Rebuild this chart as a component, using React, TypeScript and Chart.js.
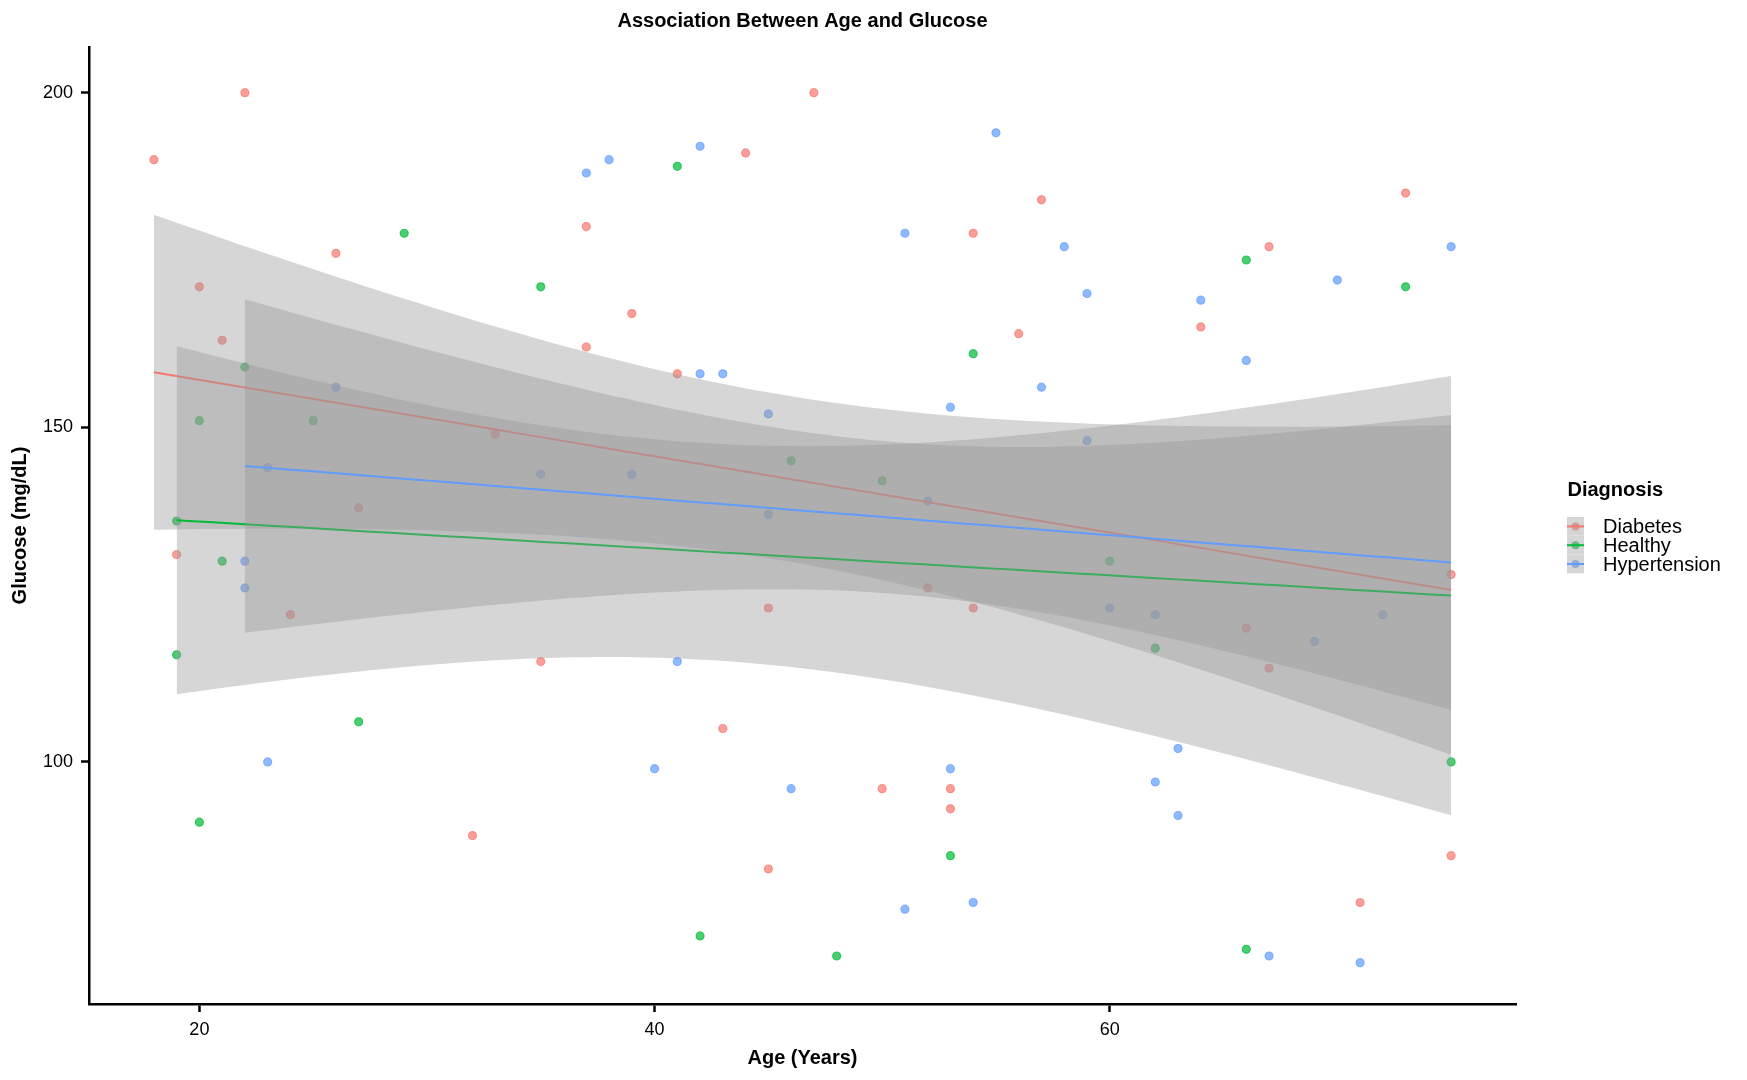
import { useEffect, useRef } from "react";
import { Chart, registerables } from "chart.js";

Chart.register(...registerables);

// ---- data -------------------------------------------------------------
const groupNames = ["Diabetes", "Healthy", "Hypertension"];
const groupColors = ["#F8766D", "#00BA38", "#619CFF"];
const groupRgb = ["248,118,109", "0,186,56", "97,156,255"];

const diabetesAge = [18, 19, 20, 21, 22, 24, 26, 27, 32, 33, 35, 37, 37, 39, 41, 43, 44, 45, 45, 47, 50, 52, 53, 53, 54, 54, 56, 57, 64, 66, 67, 67, 71, 73, 75, 75];
const diabetesGlucose = [190, 131, 171, 163, 200, 122, 176, 138, 89, 149, 115, 180, 162, 167, 158, 105, 191, 123, 84, 200, 96, 126, 96, 93, 179, 123, 164, 184, 165, 120, 177, 114, 79, 185, 128, 86];

const healthyAge = [19, 19, 20, 20, 21, 22, 25, 27, 29, 35, 41, 42, 46, 48, 50, 53, 54, 60, 62, 66, 66, 73, 75];
const healthyGlucose = [136, 116, 151, 91, 130, 159, 151, 106, 179, 171, 189, 74, 145, 71, 142, 86, 161, 130, 117, 175, 72, 171, 100];

const hypertensionAge = [22, 22, 23, 23, 26, 35, 37, 38, 39, 40, 41, 42, 42, 43, 45, 45, 46, 51, 51, 52, 53, 53, 54, 55, 57, 58, 59, 59, 60, 62, 62, 63, 63, 64, 66, 67, 69, 70, 71, 72, 75];
const hypertensionGlucose = [130, 126, 144, 100, 156, 143, 188, 190, 143, 99, 115, 192, 158, 158, 152, 137, 96, 179, 78, 139, 153, 99, 79, 194, 156, 177, 170, 148, 123, 122, 97, 102, 92, 169, 160, 71, 118, 172, 70, 122, 177];

const groupAges = [diabetesAge, healthyAge, hypertensionAge];
const groupGlucose = [diabetesGlucose, healthyGlucose, hypertensionGlucose];

const xTicks = [20, 40, 60];
const yTicks = [100, 150, 200];

const chartTitle = "Association Between Age and Glucose";
const xTitle = "Age (Years)";
const yTitle = "Glucose (mg/dL)";
const legendTitle = "Diagnosis";

const FONT = '"Liberation Sans", Arial, Helvetica, sans-serif';
const BAND_FILL = "rgba(153,153,153,0.4)";

// ---- linear model with 95% confidence band ---------------------------
function tQuantile975(df: number) {
  const z = 1.959963985;
  const z3 = z ** 3, z5 = z ** 5, z7 = z ** 7, z9 = z ** 9;
  const g1 = (z3 + z) / 4;
  const g2 = (5 * z5 + 16 * z3 + 3 * z) / 96;
  const g3 = (3 * z7 + 19 * z5 + 17 * z3 - 15 * z) / 384;
  const g4 = (79 * z9 + 776 * z7 + 1482 * z5 - 1920 * z3 - 945 * z) / 92160;
  return z + g1 / df + g2 / df ** 2 + g3 / df ** 3 + g4 / df ** 4;
}

function smoothLm(xs: number[], ys: number[], steps = 80) {
  const n = xs.length;
  const mx = xs.reduce((a, b) => a + b, 0) / n;
  const my = ys.reduce((a, b) => a + b, 0) / n;
  let sxx = 0, sxy = 0;
  for (let i = 0; i < n; i++) {
    sxx += (xs[i] - mx) ** 2;
    sxy += (xs[i] - mx) * (ys[i] - my);
  }
  const slope = sxy / sxx;
  const icpt = my - slope * mx;
  let sse = 0;
  for (let i = 0; i < n; i++) sse += (ys[i] - (icpt + slope * xs[i])) ** 2;
  const s = Math.sqrt(sse / (n - 2));
  const t = tQuantile975(n - 2);
  const lo = Math.min(...xs), hi = Math.max(...xs);
  const fit: { x: number; y: number }[] = [];
  const lower: { x: number; y: number }[] = [];
  const upper: { x: number; y: number }[] = [];
  for (let k = 0; k < steps; k++) {
    const x = lo + ((hi - lo) * k) / (steps - 1);
    const yh = icpt + slope * x;
    const se = s * Math.sqrt(1 / n + (x - mx) ** 2 / sxx);
    fit.push({ x, y: yh });
    lower.push({ x, y: yh - t * se });
    upper.push({ x, y: yh + t * se });
  }
  return { fit, lower, upper };
}

// ---- text & legend overlay --------------------------------------------
const overlayPlugin = {
  id: "overlayText",
  afterDraw(chart: any) {
    const ctx = chart.ctx as CanvasRenderingContext2D;
    const area = chart.chartArea;
    const cx = (area.left + area.right) / 2;
    const cy = (area.top + area.bottom) / 2;
    ctx.save();
    ctx.fillStyle = "#000";
    ctx.textBaseline = "alphabetic";

    ctx.font = `bold 20px ${FONT}`;
    ctx.textAlign = "center";
    ctx.fillText(chartTitle, cx, 26.5);
    ctx.fillText(xTitle, cx, 1063.5);

    ctx.save();
    ctx.translate(26, cy);
    ctx.rotate(-Math.PI / 2);
    ctx.fillText(yTitle, 0, 0);
    ctx.restore();

    // legend
    const keyLeft = 1567, keyW = 17, keyTop = 517, rowH = 18.8;
    ctx.textAlign = "left";
    ctx.font = `bold 20px ${FONT}`;
    ctx.fillText(legendTitle, 1567.5, 496);
    ctx.font = `20px ${FONT}`;
    groupNames.forEach((name, i) => {
      const top = keyTop + i * rowH;
      const my = top + rowH / 2;
      ctx.fillStyle = "#fff";
      ctx.fillRect(keyLeft, top, keyW, rowH);
      ctx.beginPath();
      ctx.arc(keyLeft + keyW / 2, my, 4, 0, Math.PI * 2);
      ctx.fillStyle = `rgba(${groupRgb[i]},0.7)`;
      ctx.fill();
      ctx.fillStyle = BAND_FILL;
      ctx.fillRect(keyLeft, top, keyW, rowH);
      ctx.strokeStyle = groupColors[i];
      ctx.lineWidth = 2;
      ctx.beginPath();
      ctx.moveTo(keyLeft, my);
      ctx.lineTo(keyLeft + keyW, my);
      ctx.stroke();
      ctx.fillStyle = "#000";
      ctx.fillText(name, 1603, top + rowH / 2 + 7);
    });
    ctx.restore();
  },
};

export default function App() {
  const canvasRef = useRef<HTMLCanvasElement | null>(null);

  useEffect(() => {
    const canvas = canvasRef.current;
    if (!canvas) return;

    const drawSeq: any[] = [];
    // raw observations (drawn underneath the smoothers)
    groupNames.forEach((name, i) => {
      drawSeq.push({
        type: "scatter",
        label: name,
        data: groupAges[i].map((a, j) => ({ x: a, y: groupGlucose[i][j] })),
        pointRadius: 4,
        pointBorderWidth: 1.2,
        pointBackgroundColor: `rgba(${groupRgb[i]},0.7)`,
        pointBorderColor: `rgba(${groupRgb[i]},0.7)`,
        showLine: false,
      });
    });
    // confidence ribbons and fitted lines, one group after another
    groupNames.forEach((name, i) => {
      const sm = smoothLm(groupAges[i], groupGlucose[i]);
      drawSeq.push({
        type: "line",
        label: name + " lower",
        data: sm.lower,
        borderColor: "rgba(0,0,0,0)",
        borderWidth: 0,
        pointRadius: 0,
        fill: false,
      });
      drawSeq.push({
        type: "line",
        label: name + " upper",
        data: sm.upper,
        borderColor: "rgba(0,0,0,0)",
        borderWidth: 0,
        pointRadius: 0,
        backgroundColor: BAND_FILL,
        fill: "-1",
      });
      drawSeq.push({
        type: "line",
        label: name + " fit",
        data: sm.fit,
        borderColor: groupColors[i],
        borderWidth: 2,
        pointRadius: 0,
        fill: false,
      });
    });
    const datasets = drawSeq.map((d, k) => ({ ...d, order: drawSeq.length - k }));

    const axisFont = { family: FONT, size: 18 };
    const chart = new Chart(canvas, {
      type: "scatter",
      data: { datasets },
      options: {
        responsive: false,
        animation: false,
        events: [],
        layout: { padding: { left: 0, top: 47, right: 231, bottom: 0 } },
        plugins: {
          legend: { display: false },
          title: { display: false },
          tooltip: { enabled: false },
        },
        scales: {
          x: {
            type: "linear",
            min: 15.15,
            max: 77.85,
            afterBuildTicks: (scale: any) => {
              scale.ticks = xTicks.map((v) => ({ value: v }));
            },
            afterFit: (scale: any) => {
              scale.height = 76;
            },
            grid: {
              display: true,
              drawOnChartArea: false,
              drawTicks: true,
              tickLength: 8,
              tickWidth: 2.5,
              tickColor: "#000",
            },
            border: { display: true, color: "#000", width: 2.5 },
            ticks: { color: "#000", font: axisFont, padding: 7, maxRotation: 0 },
          },
          y: {
            type: "linear",
            min: 63.83,
            max: 206.83,
            afterBuildTicks: (scale: any) => {
              scale.ticks = yTicks.map((v) => ({ value: v }));
            },
            afterFit: (scale: any) => {
              scale.width = 89;
            },
            grid: {
              display: true,
              drawOnChartArea: false,
              drawTicks: true,
              tickLength: 8,
              tickWidth: 2.5,
              tickColor: "#000",
            },
            border: { display: true, color: "#000", width: 2.5 },
            ticks: { color: "#000", font: axisFont, padding: 8 },
          },
        },
      } as any,
      plugins: [overlayPlugin],
    });

    return () => chart.destroy();
  }, []);

  return (
    <div style={{ position: "absolute", left: 0, top: 0, width: 1747, height: 1080, background: "#fff" }}>
      <canvas ref={canvasRef} width={1747} height={1080} style={{ display: "block" }} />
    </div>
  );
}
